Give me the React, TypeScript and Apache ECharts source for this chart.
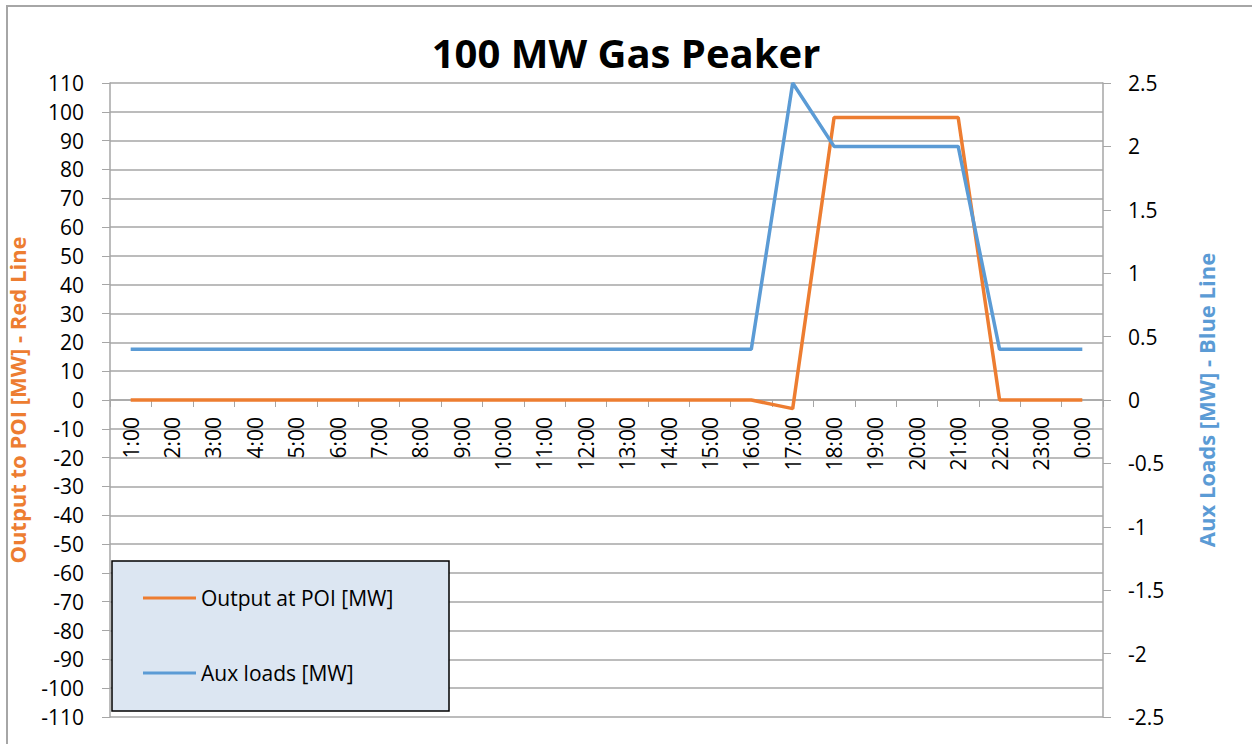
import React, { useEffect, useRef } from "react";
import * as echarts from "echarts";

const hours = [
  "1:00", "2:00", "3:00", "4:00", "5:00", "6:00", "7:00", "8:00", "9:00", "10:00",
  "11:00", "12:00", "13:00", "14:00", "15:00", "16:00", "17:00", "18:00", "19:00",
  "20:00", "21:00", "22:00", "23:00", "0:00",
];
const outputAtPoi = [0, 0, 0, 0, 0, 0, 0, 0, 0, 0, 0, 0, 0, 0, 0, 0, -3, 98, 98, 98, 98, 0, 0, 0];
const auxLoads = [
  0.4, 0.4, 0.4, 0.4, 0.4, 0.4, 0.4, 0.4, 0.4, 0.4, 0.4, 0.4, 0.4, 0.4, 0.4, 0.4,
  2.5, 2.0, 2.0, 2.0, 2.0, 0.4, 0.4, 0.4,
];
const seriesNames = ["Output at POI [MW]", "Aux loads [MW]"];
const titleText = "100 MW Gas Peaker";
const leftAxisName = "Output to POI [MW] - Red Line";
const rightAxisName = "Aux Loads [MW] - Blue Line";

const ORANGE = "#ED7D31";
const BLUE = "#5B9BD5";
const FONT = "Open Sans";

const GRID_TOP = 83;
const GRID_BOTTOM_Y = 717;
const LEFT_MIN = -110;
const LEFT_MAX = 110;

export default function App() {
  const ref = useRef<HTMLDivElement>(null);
  useEffect(() => {
    if (!ref.current) return;
    const chart = echarts.init(ref.current, undefined, { renderer: "svg" });
    // place the category axis on the zero line of the left axis
    const zeroOffset = -((GRID_BOTTOM_Y - GRID_TOP) * (0 - LEFT_MIN)) / (LEFT_MAX - LEFT_MIN);
    chart.setOption({
      animation: false,
      backgroundColor: "#ffffff",
      textStyle: { fontFamily: FONT },
      title: {
        text: titleText,
        left: "center",
        top: 27,
        textStyle: { fontFamily: FONT, fontSize: 40, fontWeight: "bold", color: "#000" },
      },
      graphic: [
        {
          type: "rect",
          z: 0,
          shape: { x: 7, y: 6, width: 1300, height: 800 },
          style: { fill: "none", stroke: "#A6A6A6", lineWidth: 2 },
          silent: true,
        },
        {
          type: "rect",
          z: 10,
          shape: { x: 112, y: 561, width: 337, height: 150 },
          style: { fill: "#DCE6F2", stroke: "#000", lineWidth: 1.5 },
          silent: true,
        },
      ],
      legend: {
        z: 20,
        orient: "vertical",
        left: 143,
        top: 585,
        padding: 0,
        itemGap: 49,
        itemWidth: 53,
        itemHeight: 3,
        icon: "rect",
        textStyle: { fontFamily: FONT, fontSize: 21, color: "#000", lineHeight: 26 },
        data: seriesNames,
      },
      grid: {
        left: 110,
        right: 149,
        top: GRID_TOP,
        bottom: 744 - GRID_BOTTOM_Y,
        containLabel: false,
        outerBoundsMode: "none",
      },
      xAxis: {
        type: "category",
        data: hours,
        boundaryGap: true,
        position: "bottom",
        offset: zeroOffset,
        axisLine: { onZero: false, lineStyle: { color: "#A6A6A6", width: 1.5 } },
        axisTick: { show: true, length: 7, lineStyle: { color: "#A6A6A6" } },
        axisLabel: { rotate: 90, margin: 17, fontSize: 21, color: "#000", fontFamily: FONT, interval: 0 },
        splitLine: { show: false },
      },
      yAxis: [
        {
          type: "value",
          min: LEFT_MIN,
          max: LEFT_MAX,
          interval: 10,
          name: leftAxisName,
          nameLocation: "middle",
          nameRotate: 90,
          nameGap: 82,
          nameTextStyle: { color: ORANGE, fontSize: 22, fontWeight: "bold", fontFamily: FONT },
          axisLine: { show: true, lineStyle: { color: "#A6A6A6", width: 1.5 } },
          axisTick: { show: true, length: 8, lineStyle: { color: "#A6A6A6" } },
          axisLabel: { margin: 26, fontSize: 21, color: "#000", fontFamily: FONT },
          splitLine: { show: true, lineStyle: { color: "#A6A6A6", width: 1.5 } },
        },
        {
          type: "value",
          min: -2.5,
          max: 2.5,
          interval: 0.5,
          position: "right",
          name: rightAxisName,
          nameLocation: "middle",
          nameRotate: 90,
          nameGap: 92,
          nameTextStyle: { color: BLUE, fontSize: 22, fontWeight: "bold", fontFamily: FONT },
          axisLine: { show: true, lineStyle: { color: "#A6A6A6", width: 1.5 } },
          axisTick: { show: true, length: 8, lineStyle: { color: "#A6A6A6" } },
          axisLabel: { margin: 25, fontSize: 21, color: "#000", fontFamily: FONT },
          splitLine: { show: false },
        },
      ],
      series: [
        {
          name: seriesNames[0],
          type: "line",
          data: outputAtPoi,
          yAxisIndex: 0,
          showSymbol: false,
          symbol: "none",
          lineStyle: { color: ORANGE, width: 3.5 },
          itemStyle: { color: ORANGE },
          z: 3,
        },
        {
          name: seriesNames[1],
          type: "line",
          data: auxLoads,
          yAxisIndex: 1,
          showSymbol: false,
          symbol: "none",
          lineStyle: { color: BLUE, width: 3.5 },
          itemStyle: { color: BLUE },
          z: 4,
        },
      ],
    });
    return () => chart.dispose();
  }, []);
  return (
    <div
      ref={ref}
      style={{ position: "fixed", left: 0, top: 0, width: 1252, height: 744 }}
    />
  );
}
